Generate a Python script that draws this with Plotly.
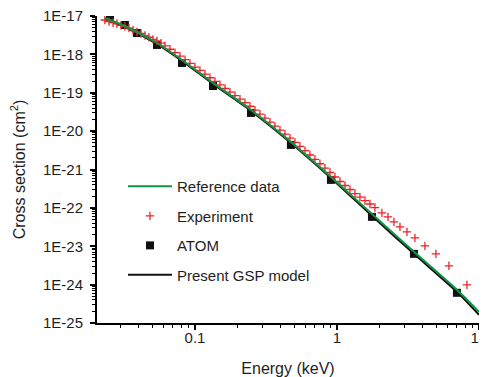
import plotly.graph_objects as go

# Reference data (green line)
ref_E = [0.0232, 0.0321, 0.0540, 0.0810, 0.1339, 0.248, 0.474, 0.907, 1.764, 3.486, 7.0, 10.0]
ref_sigma = [8.87e-18, 5.49e-18, 1.98e-18, 7.15e-19, 1.80e-19, 3.56e-20, 5.23e-21, 6.42e-22,
             6.98e-23, 7.15e-24, 7.32e-25, 1.96e-25]

# Present GSP model (black line)
gsp_E = [0.0232, 0.0321, 0.0540, 0.0810, 0.1339, 0.248, 0.474, 0.907, 1.764, 3.486, 7.0, 10.0]
gsp_sigma = [8.35e-18, 5.17e-18, 1.87e-18, 6.73e-19, 1.70e-19, 3.36e-20, 4.93e-21, 6.04e-22,
             6.19e-23, 6.34e-24, 6.49e-25, 1.64e-25]

# ATOM (black squares)
atom_E = [0.0252, 0.0321, 0.0390, 0.0540, 0.0810, 0.1339, 0.248, 0.474, 0.907, 1.764, 3.486, 7.0]
atom_sigma = [9.42e-18, 5.83e-18, 3.61e-18, 1.76e-18, 5.97e-19, 1.50e-19, 2.98e-20, 4.37e-21,
              5.36e-22, 5.83e-23, 6.34e-24, 6.12e-25]

# Experiment (red crosses)
exp_E = [0.0232, 0.0248, 0.0265, 0.0282, 0.0301, 0.0321, 0.0343, 0.0366, 0.0390, 0.0417,
         0.0445, 0.0474, 0.0506, 0.0540, 0.0576, 0.0615, 0.0667, 0.0723, 0.0784, 0.0851,
         0.0922, 0.1000, 0.1084, 0.1176, 0.1275, 0.1383, 0.1500, 0.1627, 0.1764, 0.1913,
         0.2075, 0.2250, 0.2440, 0.2646, 0.2869, 0.3112, 0.3375, 0.3659, 0.3968, 0.4303,
         0.4667, 0.5061, 0.5488, 0.5952, 0.6454, 0.6999, 0.7590, 0.8231, 0.8927, 0.9681,
         1.050, 1.139, 1.235, 1.339, 1.452, 1.575, 1.708, 1.852, 2.074, 2.287,
         2.520, 2.778, 3.112, 3.542, 4.166, 4.980, 6.149, 8.234]
exp_sigma = [7.87e-18, 7.15e-18, 6.69e-18, 6.26e-18, 5.69e-18, 5.33e-18, 4.84e-18, 4.27e-18, 3.85e-18, 3.50e-18,
             3.09e-18, 2.79e-18, 2.46e-18, 2.23e-18, 1.96e-18, 1.66e-18, 1.36e-18, 1.11e-18, 9.03e-19, 7.28e-19,
             5.83e-19, 4.67e-19, 3.83e-19, 3.07e-19, 2.46e-19, 1.98e-19, 1.61e-19, 1.29e-19, 1.04e-19, 8.46e-20,
             6.81e-20, 5.52e-20, 4.45e-20, 3.52e-20, 2.77e-20, 2.18e-20, 1.72e-20, 1.35e-20, 1.06e-20, 8.35e-21,
             6.57e-21, 5.08e-21, 4.02e-21, 3.09e-21, 2.39e-21, 1.83e-21, 1.41e-21, 1.08e-21, 8.35e-22, 6.38e-22,
             4.87e-22, 3.83e-22, 3.01e-22, 2.36e-22, 1.91e-22, 1.55e-22, 1.26e-22, 1.02e-22, 7.41e-23, 5.83e-23,
             4.32e-23, 3.20e-23, 2.37e-23, 1.65e-23, 1.02e-23, 6.34e-24, 3.09e-24, 9.88e-25]

y_tickvals = [1e-17, 1e-18, 1e-19, 1e-20, 1e-21, 1e-22, 1e-23, 1e-24, 1e-25]
y_ticktext = ["1E-17", "1E-18", "1E-19", "1E-20", "1E-21", "1E-22", "1E-23", "1E-24", "1E-25"]
x_tickvals = [0.1, 1, 10]
x_ticktext = ["0.1", "1", "10"]

GREEN = "#0d9444"
RED = "#e8262a"
TXT = "#1e1e1e"
FONT = "Liberation Sans, Arial, sans-serif"

fig = go.Figure()
fig.add_trace(go.Scatter(x=atom_E, y=atom_sigma, mode="markers", name="ATOM",
                         marker=dict(symbol="square", size=8, color="#111111"),
                         legendrank=3, legendgroup="c"))
fig.add_trace(go.Scatter(x=gsp_E, y=gsp_sigma, mode="lines", name="Present GSP model",
                         line=dict(color="#111111", width=2, shape="spline", smoothing=0.6),
                         legendrank=4, legendgroup="d"))
fig.add_trace(go.Scatter(x=exp_E, y=exp_sigma, mode="markers", name="Experiment",
                         marker=dict(symbol="cross-thin", size=6, color=RED,
                                     line=dict(color=RED, width=1.3)),
                         legendrank=2, legendgroup="b"))
fig.add_trace(go.Scatter(x=ref_E, y=ref_sigma, mode="lines", name="Reference data",
                         line=dict(color=GREEN, width=2, shape="spline", smoothing=0.6),
                         legendrank=1, legendgroup="a"))

# the page body adds an 8px offset; the plot area is placed to match the reference
fig.update_layout(
    width=487, height=369,
    margin=dict(l=89, r=16, t=8, b=54),
    paper_bgcolor="white", plot_bgcolor="white",
    font=dict(family=FONT, size=15, color=TXT),
    legend=dict(x=0.068, y=0.498, xanchor="left", yanchor="top",
                bgcolor="rgba(0,0,0,0)", font=dict(size=15, color=TXT),
                tracegroupgap=7, itemwidth=44),
)
fig.update_xaxes(type="log", range=[-1.69, 1.0005], automargin=False,
                 tickvals=x_tickvals, ticktext=x_ticktext, ticklabeloverflow="allow",
                 ticks="outside", ticklen=5, tickwidth=1.5, tickcolor="black",
                 ticklabelstandoff=-5,
                 minor=dict(ticks="outside", ticklen=3, tickwidth=1.2, tickcolor="black",
                            tickmode="linear", dtick="D1"),
                 showline=True, linecolor="black", linewidth=2, mirror=False,
                 showgrid=False, zeroline=False,
                 title=dict(text="Energy (keV)", font=dict(size=16, color=TXT), standoff=18))
fig.update_yaxes(type="log", range=[-25, -17], automargin=False,
                 tickvals=y_tickvals, ticktext=y_ticktext, ticklabeloverflow="allow",
                 ticks="outside", ticklen=5, tickwidth=1.5, tickcolor="black",
                 ticklabelstandoff=4,
                 minor=dict(ticks="outside", ticklen=3, tickwidth=1.2, tickcolor="black",
                            tickmode="linear", dtick="D1"),
                 showline=True, linecolor="black", linewidth=2, mirror=False,
                 showgrid=False, zeroline=False,
                 title=dict(text="Cross section (cm<sup>2</sup>)", font=dict(size=16, color=TXT), standoff=18))

fig.write_html("out.html")
